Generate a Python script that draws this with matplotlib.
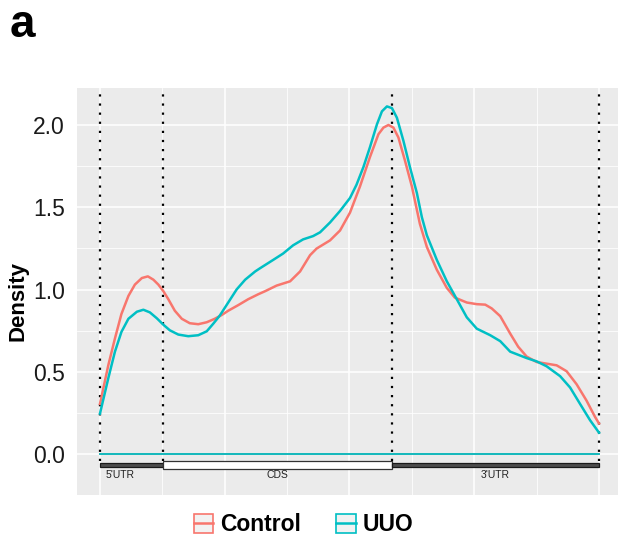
import numpy as np
import matplotlib
matplotlib.use("Agg")
import matplotlib.pyplot as plt
from matplotlib.patches import Rectangle, Patch
from matplotlib.lines import Line2D
from matplotlib.legend_handler import HandlerTuple

plt.rcParams['font.family'] = ['Liberation Sans', 'DejaVu Sans']

# ---- data (x = relative position along transcript) ----
ctrl_x = [0.0, 0.017, 0.030, 0.043, 0.057, 0.070, 0.084, 0.096, 0.107, 0.117,
          0.127, 0.137, 0.150, 0.164, 0.180, 0.197, 0.214, 0.230, 0.244, 0.257,
          0.277, 0.297, 0.317, 0.331, 0.354, 0.381, 0.401, 0.421, 0.434, 0.461,
          0.481, 0.501, 0.521, 0.541, 0.558, 0.568, 0.578, 0.588, 0.598, 0.611,
          0.625, 0.641, 0.655, 0.675, 0.695, 0.711, 0.735, 0.755, 0.772, 0.785,
          0.802, 0.822, 0.838, 0.855, 0.875, 0.895, 0.915, 0.935, 0.955, 0.975,
          0.992, 1.0]
ctrl_y = [0.304, 0.543, 0.702, 0.851, 0.961, 1.030, 1.070, 1.080, 1.060, 1.030,
          0.990, 0.941, 0.871, 0.822, 0.795, 0.789, 0.801, 0.822, 0.845, 0.871,
          0.905, 0.941, 0.971, 0.990, 1.024, 1.050, 1.110, 1.209, 1.249, 1.299,
          1.359, 1.468, 1.627, 1.806, 1.945, 1.985, 2.001, 1.985, 1.925, 1.786,
          1.627, 1.400, 1.259, 1.120, 1.010, 0.951, 0.921, 0.911, 0.908, 0.885,
          0.838, 0.732, 0.652, 0.592, 0.559, 0.549, 0.539, 0.503, 0.424, 0.324,
          0.225, 0.185]

uuo_x = [0.0, 0.017, 0.030, 0.043, 0.057, 0.074, 0.087, 0.100, 0.114, 0.127,
         0.140, 0.157, 0.177, 0.197, 0.214, 0.227, 0.240, 0.257, 0.274, 0.291,
         0.311, 0.321, 0.347, 0.367, 0.387, 0.407, 0.427, 0.441, 0.461, 0.481,
         0.501, 0.514, 0.528, 0.541, 0.555, 0.565, 0.575, 0.585, 0.595, 0.608,
         0.621, 0.635, 0.645, 0.655, 0.675, 0.695, 0.715, 0.735, 0.755, 0.782,
         0.802, 0.822, 0.855, 0.875, 0.895, 0.922, 0.942, 0.962, 0.982, 1.0]
uuo_y = [0.245, 0.464, 0.622, 0.742, 0.822, 0.865, 0.877, 0.861, 0.825, 0.786,
         0.752, 0.726, 0.716, 0.722, 0.746, 0.792, 0.841, 0.921, 1.001, 1.060,
         1.110, 1.130, 1.180, 1.219, 1.269, 1.305, 1.325, 1.348, 1.408, 1.478,
         1.557, 1.637, 1.746, 1.866, 2.005, 2.084, 2.114, 2.104, 2.045, 1.905,
         1.746, 1.587, 1.440, 1.330, 1.180, 1.050, 0.941, 0.831, 0.762, 0.722,
         0.686, 0.622, 0.583, 0.563, 0.533, 0.473, 0.404, 0.304, 0.205, 0.129]

# region boundaries: 5'UTR | CDS | 3'UTR
bounds = [0.0, 0.126, 0.585, 1.0]
regions = ["5'UTR", "CDS", "3'UTR"]
region_label_x = [0.04, 0.355, 0.792]

red = '#F8766D'
teal = '#00BFC4'

fig = plt.figure(figsize=(6.18, 5.39), dpi=100)
ax = fig.add_axes([77/618, 1-495/539, 541/618, 407/539])

ax.set_facecolor('#EBEBEB')
for s in ax.spines.values():
    s.set_visible(False)

ax.set_xlim(-0.046, 1.038)
ax.set_ylim(-0.203, 2.226)

ax.set_yticks([0.0, 0.5, 1.0, 1.5, 2.0])
ax.set_yticklabels(['0.0', '0.5', '1.0', '1.5', '2.0'])
ax.set_yticks([-0.25, 0.25, 0.75, 1.25, 1.75], minor=True)
ax.set_xticks([0, 0.25, 0.5, 0.75, 1.0])
ax.set_xticks([0.125, 0.375, 0.625, 0.875], minor=True)
ax.tick_params(axis='both', which='both', length=0)
ax.tick_params(axis='x', labelbottom=False)
ax.tick_params(axis='y', labelsize=16.5, labelcolor='#1a1a1a', pad=8.6)
ax.grid(which='major', color='white', linewidth=1.1)
ax.grid(which='minor', color='white', linewidth=0.55)
ax.set_axisbelow(True)

ax.set_ylabel('Density', fontsize=16, fontweight='bold')
ax.yaxis.set_label_coords(-0.09, 0.477)

# dotted boundaries
for b in bounds:
    ax.plot([b, b], [-0.045, 2.3], color='black', linewidth=1.6,
            linestyle=(0, (1, 3.1)), zorder=2)

# baseline
ax.plot([0, 1], [0, 0], color=red, linewidth=1.3, zorder=3)
ax.plot([0, 1], [0, 0], color=teal, linewidth=1.3, zorder=3)

# density curves
ax.plot(ctrl_x, ctrl_y, color=red, linewidth=1.8, zorder=4, solid_joinstyle='round')
ax.plot(uuo_x, uuo_y, color=teal, linewidth=1.8, zorder=4, solid_joinstyle='round')

# gene structure track
ax.add_patch(Rectangle((bounds[0], -0.081), bounds[1]-bounds[0], 0.025,
                       facecolor='#4d4d4d', edgecolor='#1a1a1a', lw=0.9, zorder=3))
ax.add_patch(Rectangle((bounds[1], -0.09), bounds[2]-bounds[1], 0.046,
                       facecolor='white', edgecolor='#333333', lw=0.9, zorder=3))
ax.add_patch(Rectangle((bounds[2], -0.081), bounds[3]-bounds[2], 0.025,
                       facecolor='#4d4d4d', edgecolor='#1a1a1a', lw=0.9, zorder=3))
for lab, lx in zip(regions, region_label_x):
    ax.text(lx, -0.13, lab, ha='center', va='center', fontsize=7.5, color='#222222')

# legend
h_ctrl = (Patch(facecolor='#F2F2F2', edgecolor=red, linewidth=1.2),
          Line2D([], [], color=red, linewidth=1.8))
h_uuo = (Patch(facecolor='#F2F2F2', edgecolor=teal, linewidth=1.2),
         Line2D([], [], color=teal, linewidth=1.8))
fig.legend([h_ctrl, h_uuo], ['Control', 'UUO'], loc='center',
           bbox_to_anchor=(0.491, 0.026), ncol=2, frameon=False,
           handler_map={tuple: HandlerTuple(ndivide=1, pad=0)},
           prop={'size': 16.5, 'weight': 'bold'},
           handlelength=0.83, handleheight=0.9, handletextpad=0.3,
           columnspacing=1.57)

fig.text(10/618, 1-37/539, 'a', fontsize=33, fontweight='bold', ha='left', va='baseline')

fig.savefig('out.png', dpi=100)
